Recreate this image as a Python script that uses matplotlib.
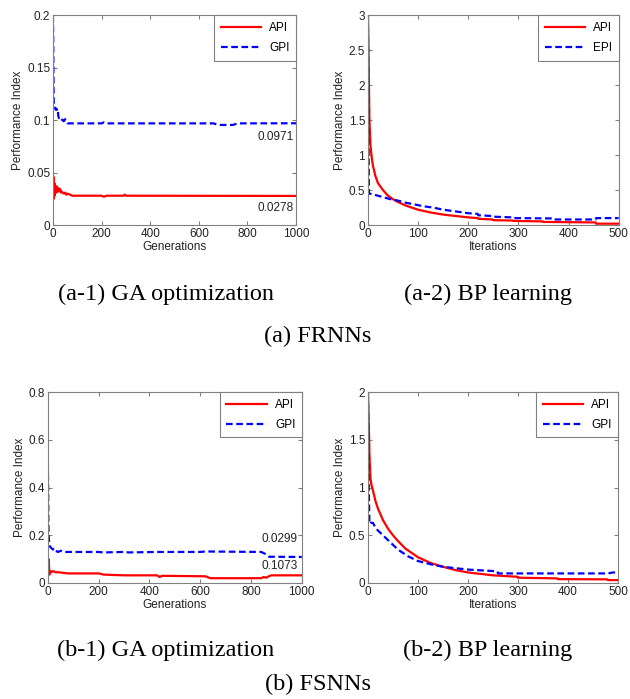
import matplotlib
matplotlib.use("Agg")
import matplotlib.pyplot as plt

plt.rcParams["font.family"] = "Liberation Sans"

# --- (a-1) FRNN GA optimization ---
a1_gen = [0, 1, 2, 3, 4, 5, 8, 10, 12, 15, 18, 20, 22, 25, 28, 30, 35, 40, 45, 50, 55, 60, 70, 80, 100, 200, 210, 220, 300, 480, 500, 660, 680, 700, 740, 760, 1000]
a1_gpi = [0.200, 0.180, 0.150, 0.120, 0.113, 0.112, 0.112, 0.111, 0.110, 0.111, 0.109, 0.110, 0.104, 0.102, 0.103, 0.102, 0.101, 0.100, 0.099, 0.101, 0.099, 0.097, 0.097, 0.097, 0.097, 0.097, 0.098, 0.097, 0.097, 0.097, 0.097, 0.097, 0.0955, 0.0955, 0.0955, 0.097, 0.0971]
a1_api_gen = [0, 1, 2, 3, 4, 5, 6, 7, 8, 10, 12, 14, 16, 18, 20, 22, 25, 28, 30, 33, 36, 40, 45, 50, 55, 60, 70, 80, 90, 200, 210, 220, 290, 295, 300, 1000]
a1_api = [0.050, 0.030, 0.046, 0.025, 0.042, 0.030, 0.040, 0.028, 0.038, 0.032, 0.036, 0.031, 0.037, 0.033, 0.035, 0.032, 0.035, 0.033, 0.034, 0.031, 0.032, 0.031, 0.030, 0.031, 0.029, 0.030, 0.029, 0.028, 0.028, 0.028, 0.027, 0.028, 0.028, 0.029, 0.028, 0.0278]

# --- (a-2) FRNN BP learning ---
a2_it = [0, 1, 2, 3, 5, 7, 10, 15, 20, 30, 40, 50, 60, 75, 100, 125, 150, 175, 200, 219, 220, 249, 250, 289, 290, 349, 350, 454, 455, 500]
a2_api = [3.0, 2.6, 2.0, 1.5, 1.15, 1.0, 0.85, 0.70, 0.60, 0.50, 0.42, 0.37, 0.33, 0.28, 0.22, 0.18, 0.15, 0.13, 0.11, 0.10, 0.09, 0.08, 0.07, 0.065, 0.06, 0.052, 0.045, 0.038, 0.02, 0.02]
a2_epi_it = [0, 1, 2, 3, 10, 20, 30, 45, 60, 75, 90, 110, 130, 150, 170, 200, 219, 220, 249, 250, 289, 290, 369, 370, 454, 455, 500]
a2_epi = [3.0, 1.5, 0.47, 0.45, 0.44, 0.42, 0.40, 0.37, 0.35, 0.32, 0.30, 0.27, 0.25, 0.22, 0.20, 0.17, 0.16, 0.14, 0.13, 0.12, 0.11, 0.10, 0.095, 0.08, 0.08, 0.10, 0.10]

# --- (b-1) FSNN GA optimization ---
b1_gen = [0, 1, 2, 3, 5, 8, 10, 15, 20, 25, 30, 40, 50, 60, 100, 200, 220, 300, 320, 430, 440, 600, 620, 840, 850, 860, 870, 1000]
b1_gpi = [0.50, 0.40, 0.26, 0.20, 0.17, 0.155, 0.15, 0.145, 0.14, 0.145, 0.135, 0.13, 0.135, 0.13, 0.13, 0.13, 0.128, 0.13, 0.128, 0.13, 0.13, 0.13, 0.132, 0.13, 0.125, 0.12, 0.11, 0.109]
b1_api_gen = [0, 1, 2, 3, 5, 6, 8, 10, 15, 20, 30, 40, 80, 200, 220, 300, 430, 440, 450, 620, 640, 840, 850, 860, 870, 880, 1000]
b1_api = [0.025, 0.05, 0.10, 0.10, 0.06, 0.035, 0.05, 0.05, 0.045, 0.05, 0.045, 0.045, 0.04, 0.04, 0.035, 0.032, 0.032, 0.025, 0.03, 0.028, 0.02, 0.02, 0.025, 0.022, 0.028, 0.032, 0.032]

# --- (b-2) FSNN BP learning ---
b2_it = [0, 1, 2, 3, 5, 7, 10, 15, 20, 30, 40, 50, 60, 75, 100, 125, 150, 175, 200, 250, 299, 300, 379, 380, 479, 480, 500]
b2_api = [2.0, 1.85, 1.6, 1.35, 1.1, 1.03, 0.97, 0.86, 0.78, 0.66, 0.57, 0.50, 0.44, 0.36, 0.27, 0.21, 0.17, 0.135, 0.11, 0.08, 0.065, 0.055, 0.048, 0.04, 0.038, 0.03, 0.03]
b2_gpi_it = [0, 1, 2, 3, 5, 10, 15, 20, 30, 40, 60, 80, 100, 130, 150, 200, 250, 259, 260, 480, 490, 500]
b2_gpi = [2.0, 1.4, 0.9, 0.62, 0.63, 0.63, 0.58, 0.55, 0.50, 0.45, 0.35, 0.28, 0.23, 0.19, 0.17, 0.14, 0.125, 0.12, 0.10, 0.10, 0.11, 0.11]

fig = plt.figure(figsize=(6.3, 6.99), dpi=100)


def style_axes(ax, xmax, ymax, yticks, xlabel):
    ax.set_xlim(0, xmax)
    ax.set_ylim(0, ymax)
    ax.set_yticks(yticks)
    ax.set_yticklabels([("%g" % t) for t in yticks])
    ax.tick_params(direction="in", top=True, right=True, length=3,
                   color="#808080", labelsize=8.5, pad=2, labelcolor="#222222")
    for s in ax.spines.values():
        s.set_color("#808080")
        s.set_linewidth(0.8)
    ax.set_xlabel(xlabel, fontsize=8.5, labelpad=1, color="#222222")
    ax.set_ylabel("Performance Index", fontsize=8.5, labelpad=2, color="#222222")


def add_legend(ax, names):
    leg = ax.legend(names, loc="upper right", fontsize=8.5, handlelength=3.4,
                    fancybox=False, borderaxespad=0, framealpha=1,
                    borderpad=0.55, labelspacing=0.7, handletextpad=0.7)
    leg.get_frame().set_edgecolor("#808080")
    leg.get_frame().set_linewidth(0.8)


# (a-1)
ax = fig.add_axes([0.084, 0.678, 0.386, 0.300])
ax.plot(a1_api_gen, a1_api, color="red", lw=1.6)
ax.plot(a1_gen, a1_gpi, color="blue", lw=1.6, ls=(0, (3, 1.6)))
style_axes(ax, 1000, 0.2, [0, 0.05, 0.1, 0.15, 0.2], "Generations")
ax.set_xticks([0, 200, 400, 600, 800, 1000])
add_legend(ax, ["API", "GPI"])
ax.text(990, 0.084, "0.0971", ha="right", va="center", fontsize=8.5, color="#222222")
ax.text(990, 0.016, "0.0278", ha="right", va="center", fontsize=8.5, color="#222222")

# (a-2)
ax = fig.add_axes([0.584, 0.678, 0.398, 0.300])
ax.plot(a2_it, a2_api, color="red", lw=1.6)
ax.plot(a2_epi_it, a2_epi, color="blue", lw=1.6, ls=(0, (3, 1.6)))
style_axes(ax, 500, 3, [0, 0.5, 1, 1.5, 2, 2.5, 3], "Iterations")
ax.set_xticks([0, 100, 200, 300, 400, 500])
add_legend(ax, ["API", "EPI"])

# (b-1)
ax = fig.add_axes([0.076, 0.166, 0.403, 0.273])
ax.plot(b1_api_gen, b1_api, color="red", lw=1.6)
ax.plot(b1_gen, b1_gpi, color="blue", lw=1.6, ls=(0, (3, 1.6)))
style_axes(ax, 1000, 0.8, [0, 0.2, 0.4, 0.6, 0.8], "Generations")
ax.set_xticks([0, 200, 400, 600, 800, 1000])
add_legend(ax, ["API", "GPI"])
ax.text(985, 0.185, "0.0299", ha="right", va="center", fontsize=8.5, color="#222222")
ax.text(985, 0.07, "0.1073", ha="right", va="center", fontsize=8.5, color="#222222")

# (b-2)
ax = fig.add_axes([0.584, 0.166, 0.397, 0.273])
ax.plot(b2_it, b2_api, color="red", lw=1.6)
ax.plot(b2_gpi_it, b2_gpi, color="blue", lw=1.6, ls=(0, (3, 1.6)))
style_axes(ax, 500, 2, [0, 0.5, 1, 1.5, 2], "Iterations")
ax.set_xticks([0, 100, 200, 300, 400, 500])
add_legend(ax, ["API", "GPI"])

# captions
cap = dict(ha="center", va="center", fontsize=17.5, family="Liberation Serif")
fig.text(166 / 630, 1 - 294 / 699, "(a-1) GA optimization", **cap)
fig.text(488 / 630, 1 - 294 / 699, "(a-2) BP learning", **cap)
fig.text(318 / 630, 1 - 336 / 699, "(a) FRNNs", **cap)
fig.text(166 / 630, 1 - 650 / 699, "(b-1) GA optimization", **cap)
fig.text(488 / 630, 1 - 650 / 699, "(b-2) BP learning", **cap)
fig.text(318 / 630, 1 - 684 / 699, "(b) FSNNs", **cap)

fig.savefig("out.png", dpi=100)
